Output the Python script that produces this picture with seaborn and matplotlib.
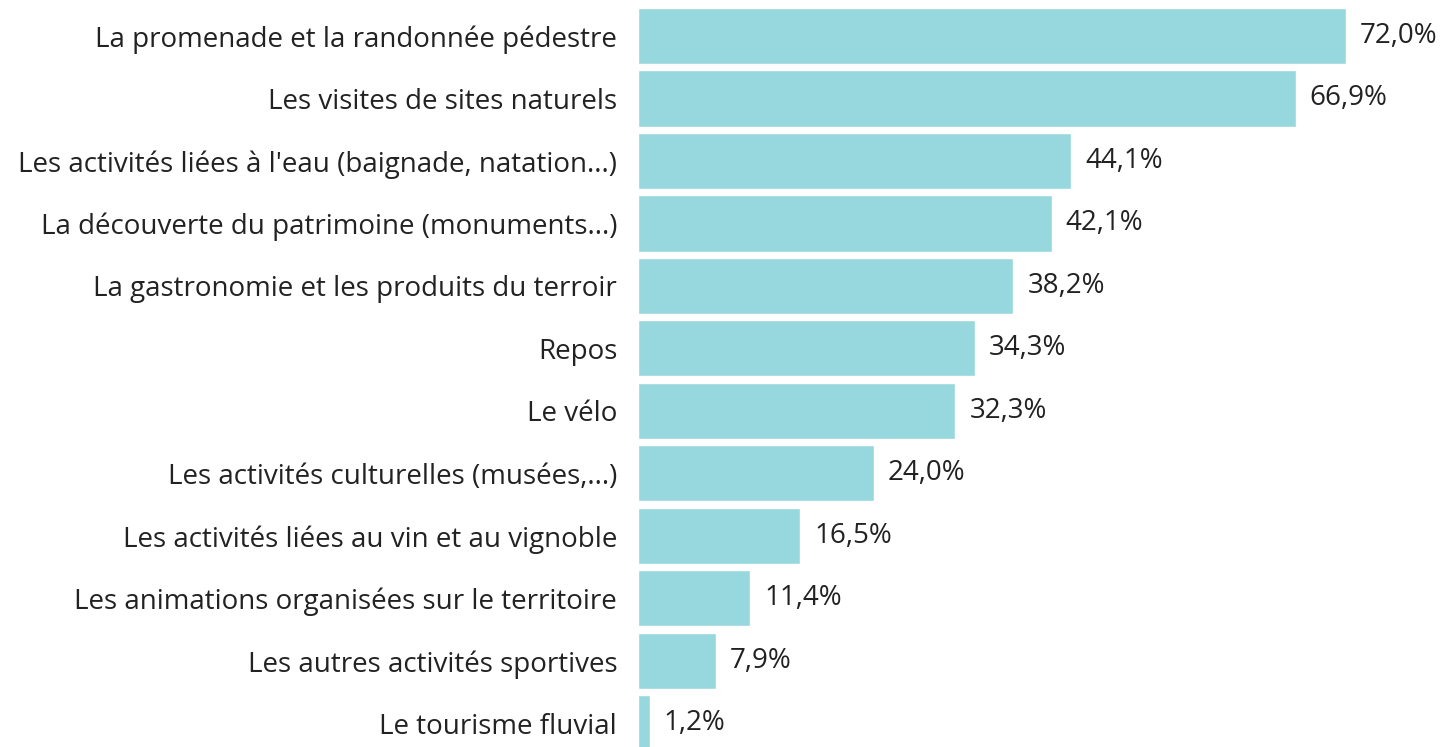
import numpy as np
import pandas as pd
import seaborn as sns
import matplotlib.pyplot as plt

activities = [
    "La promenade et la randonnée pédestre",
    "Les visites de sites naturels",
    "Les activités liées à l'eau (baignade, natation...)",
    "La découverte du patrimoine (monuments...)",
    "La gastronomie et les produits du terroir",
    "Repos",
    "Le vélo",
    "Les activités culturelles (musées,...)",
    "Les activités liées au vin et au vignoble",
    "Les animations organisées sur le territoire",
    "Les autres activités sportives",
    "Le tourisme fluvial",
]
shares = [72.0, 66.9, 44.1, 42.1, 38.2, 34.3, 32.3, 24.0, 16.5, 11.4, 7.9, 1.2]

df = pd.DataFrame({"Activité": activities, "Part": shares})

sns.set_style("white")
plt.rcParams['font.family'] = ['Open Sans', 'DejaVu Sans']

fig = plt.figure(figsize=(14.42, 7.47), dpi=100)
ax = fig.add_axes([638 / 1442, 0, 1 - 638 / 1442, 1])

sns.barplot(data=df, x="Part", y="Activité", order=activities,
            color="#97d8de", saturation=1, width=0.9, ax=ax)

for i, v in enumerate(shares):
    ax.annotate(f"{v:.1f}".replace(".", ",") + "%", (v, i),
                xytext=(10, 0), textcoords="offset points",
                va="center", ha="left", fontsize=20, color="#222222")

ax.set_xlim(0, 81.8)
ax.set_ylim(11.38, -0.576)
ax.set_xlabel("")
ax.set_ylabel("")
ax.set_xticks([])
ax.tick_params(axis="y", length=0, pad=15, labelsize=20, labelcolor="#222222")
sns.despine(ax=ax, left=True, bottom=True)

fig.savefig("out.png", dpi=100)
